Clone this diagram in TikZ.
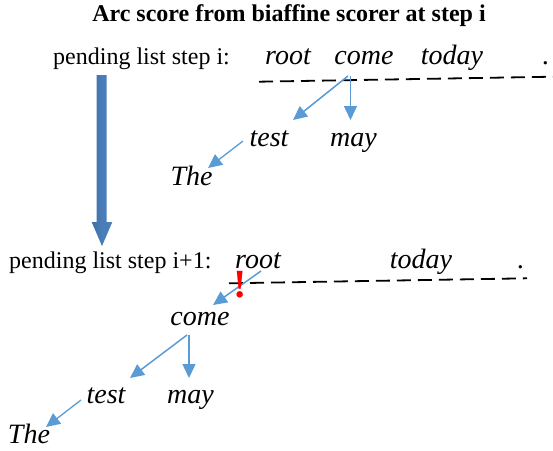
\documentclass[tikz,border=0pt]{standalone}
\usepackage{fontspec}
\setmainfont{Liberation Serif}[ItalicFont={Liberation Serif Italic},BoldFont={Liberation Serif Bold}]
\usetikzlibrary{arrows.meta,calc}
\definecolor{arcblue}{RGB}{91,155,213}
\definecolor{bigblue}{RGB}{74,126,184}
\definecolor{bigbluedark}{RGB}{62,110,165}
\begin{document}
\begin{tikzpicture}[x=1pt,y=-1pt,
  word/.style={inner sep=0pt,anchor=base,font=\fontsize{28}{32}\selectfont\itshape},
  lbl/.style={inner sep=0pt,anchor=base west,font=\fontsize{24}{28}\selectfont},
  arc/.style={draw=arcblue,line width=1.5pt,-{Triangle[length=14pt,width=13pt]}},
  cut/.style={draw=black,line width=1.8pt,dash pattern=on 14pt off 7pt}]
\useasboundingbox (0,0) rectangle (553,450);
% title
\node[inner sep=0pt,anchor=base,font=\fontsize{24}{28}\selectfont\bfseries] (title) at (289,21) {Arc score from biaffine scorer at step i};
% step i
\node[lbl] (label1) at (53,64) {pending list step i:};
\node[word] (root1) at (288,64) {root};
\node[word] (come1) at (364,64) {come};
\node[word] (today1) at (452,64) {today};
\node[word] (dot1) at (546,64) {.};
\node[word] (test1) at (269,146) {test};
\node[word] (may1) at (353.5,146) {may};
\node[word] (The1) at (191.5,185) {The};
\coordinate (c1a) at (259,81.7);
\coordinate (c1b) at (553,76.7);
\draw[cut] (c1a) -- (c1b);
\draw[arc] ($(come1.base)+(-16,12)$) -- ($(test1.base)+(24,-26)$);
\draw[arc] ($(come1.base)+(-13.5,12)$) -- ($(may1.base)+(-3,-26)$);
\draw[arc,line width=1.3pt] ($(test1.base)+(-26,-5)$) -- ($(The1.base)+(16.5,-17)$);
% big arrow
\shade[left color=bigbluedark,right color=bigblue,middle color=bigblue]
  (96.7,75) -- (106.7,75) -- (106.7,222) -- (112.3,222) -- (102,246) -- (91.7,222) -- (96.7,222) -- cycle;
% step i+1
\node[lbl] (label2) at (9,268) {pending list step i+1:};
\node[word] (root2) at (258,268) {root};
\node[word] (today2) at (421,268) {today};
\node[word] (dot2) at (521,268) {.};
\node[word] (come2) at (200,325) {come};
\node[word] (test2) at (106,403) {test};
\node[word] (may2) at (190.5,403) {may};
\node[word] (The2) at (29,443) {The};
\coordinate (c2a) at (229,283.3);
\coordinate (c2b) at (527,278.3);
\draw[cut] (c2a) -- (c2b);
\draw[arc] ($(root2.base)+(3,3)$) -- ($(come2.base)+(13,-20)$);
\draw[arc] ($(come2.base)+(-13,10)$) -- ($(test2.base)+(24,-25)$);
\draw[arc] ($(come2.base)+(-11,10)$) -- ($(may2.base)+(-1.5,-25)$);
\draw[arc,line width=1.3pt] ($(test2.base)+(-25,-3)$) -- ($(The2.base)+(17,-16)$);
\node[inner sep=0pt,anchor=base,text=red,font=\fontsize{40}{44}\selectfont\bfseries] (bang) at (240.5,297) {!};
\end{tikzpicture}
\end{document}
